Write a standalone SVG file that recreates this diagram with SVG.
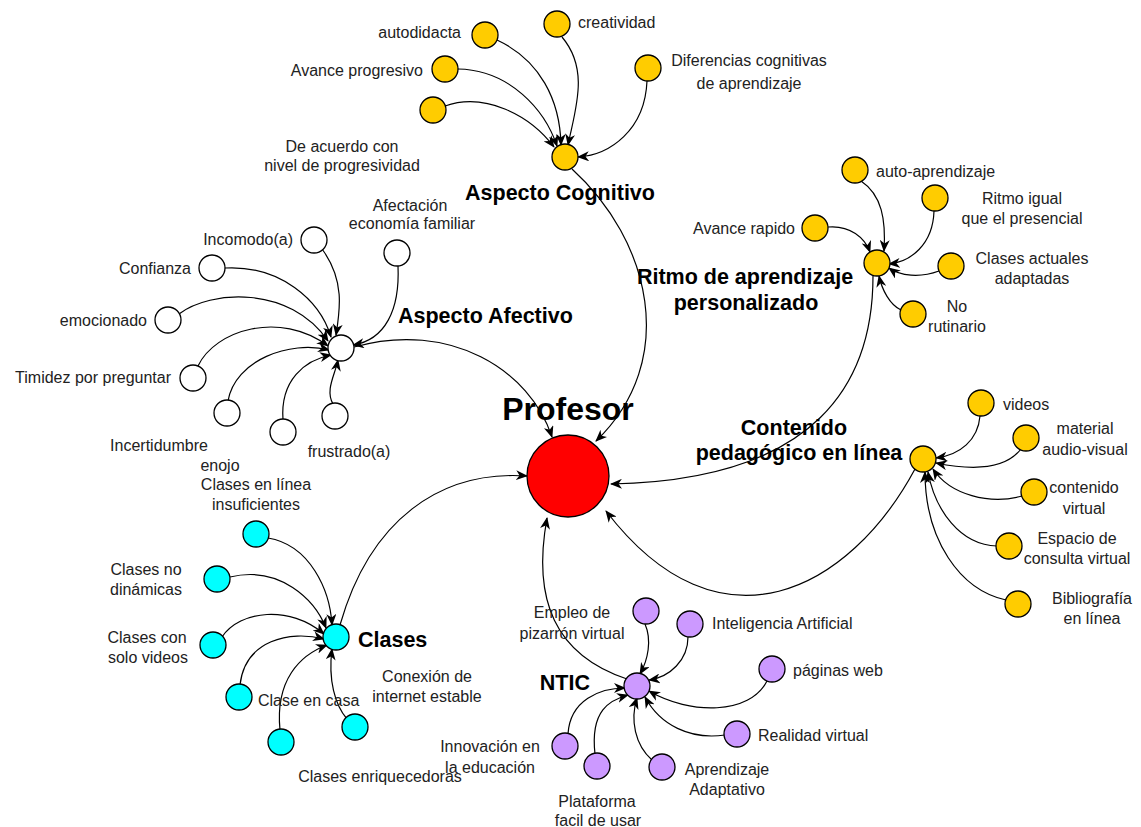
<svg xmlns="http://www.w3.org/2000/svg" width="1141" height="827" viewBox="0 0 1141 827">
<defs>
<marker id="arr" viewBox="0 0 12 10" refX="11" refY="5" markerWidth="12" markerHeight="10" markerUnits="userSpaceOnUse" orient="auto">
<path d="M0,0 L12,5 L0,10 L3.5,5 z" fill="#000"/>
</marker>
<style>
.e{fill:none;stroke:#000;stroke-width:1.2;marker-end:url(#arr)}
circle{stroke:#000;stroke-width:1.3}
.g{fill:#FFCC00}.w{fill:#FFFFFF}.c{fill:#00FFFF}.p{fill:#CC99FF}.r{fill:#FF0000}
text{font-family:"Liberation Sans",Arial,sans-serif;font-size:16px;fill:#222}
.b{font-weight:bold;font-size:21.5px;fill:#000}
.m{text-anchor:middle}.s{text-anchor:end}
</style>
</defs>
<rect width="1141" height="827" fill="#fff"/>
<g id="connectors">
<!-- Cognitivo -->
<path class="e" d="M497,40 C540,60 560,100 561,145"/>
<path class="e" d="M562,37 C590,70 575,110 568,145"/>
<path class="e" d="M458,69 C510,70 545,110 557,146"/>
<path class="e" d="M445,106 C485,92 530,115 554,147"/>
<path class="e" d="M647,81 C645,130 610,155 578,157"/>
<path class="e" d="M572,169 C650,240 680,360 596,441"/>
<!-- Ritmo -->
<path class="e" d="M861,181 C882,195 886,220 884,251"/>
<path class="e" d="M934,211 C933,245 910,262 889,264"/>
<path class="e" d="M828,227 C850,225 865,238 870,252"/>
<path class="e" d="M939,271 C920,278 900,276 889,268"/>
<path class="e" d="M901,310 C890,305 882,290 879,276"/>
<path class="e" d="M873,276 C873,380 820,480 611,484"/>
<!-- Contenido -->
<path class="e" d="M980,416 C978,440 960,455 936,458"/>
<path class="e" d="M1021,449 C1005,470 970,470 936,463"/>
<path class="e" d="M1022,496 C990,505 950,495 933,469"/>
<path class="e" d="M997,546 C960,545 935,510 928,472"/>
<path class="e" d="M1006,600 C960,590 925,540 925,472"/>
<path class="e" d="M915,469 C850,590 720,660 606,511"/>
<!-- Afectivo -->
<path class="e" d="M322,249 C345,280 340,310 336,335"/>
<path class="e" d="M398,266 C400,310 385,340 353,345"/>
<path class="e" d="M225,268 C280,265 320,300 331,337"/>
<path class="e" d="M179,314 C210,290 290,285 328,341"/>
<path class="e" d="M198,366 C215,330 280,310 328,346"/>
<path class="e" d="M228,401 C235,360 290,340 329,350"/>
<path class="e" d="M283,420 C280,380 305,360 331,355"/>
<path class="e" d="M333,404 C325,390 335,375 338,360"/>
<path class="e" d="M354,347 C450,320 530,370 552,437"/>
<!-- Clases -->
<path class="e" d="M268,538 C310,545 330,590 332,625"/>
<path class="e" d="M230,577 C280,565 315,600 326,628"/>
<path class="e" d="M222,637 C240,610 290,605 324,634"/>
<path class="e" d="M240,685 C245,640 290,630 324,639"/>
<path class="e" d="M280,730 C275,680 300,655 327,645"/>
<path class="e" d="M347,719 C335,705 328,680 332,649"/>
<path class="e" d="M340,625 C370,520 440,470 527,476"/>
<!-- NTIC -->
<path class="e" d="M645,624 C652,640 648,660 640,674"/>
<path class="e" d="M688,637 C688,660 670,677 649,680"/>
<path class="e" d="M767,681 C750,715 690,715 649,691"/>
<path class="e" d="M725,735 C690,740 660,725 645,697"/>
<path class="e" d="M652,760 C635,745 630,720 637,698"/>
<path class="e" d="M595,754 C590,710 610,700 628,695"/>
<path class="e" d="M568,734 C570,700 600,688 625,688"/>
<path class="e" d="M627,679 C555,655 532,600 547,518"/>
</g>
<g id="profesor"><circle class="r" cx="568" cy="476" r="41"/><text class="b m" x="568" y="420" style="font-size:32px">Profesor</text></g>
<g id="cognitivo"><circle class="g" cx="565" cy="157" r="13"/><text class="b m" x="560" y="200">Aspecto Cognitivo</text></g>
<g id="autodidacta"><circle class="g" cx="485" cy="35" r="13"/><text class="s" x="461" y="38">autodidacta</text></g>
<g id="creatividad"><circle class="g" cx="557" cy="24" r="13"/><text x="578" y="28">creatividad</text></g>
<g id="avance-progresivo"><circle class="g" cx="445" cy="69" r="13"/><text class="s" x="423" y="76">Avance progresivo</text></g>
<g id="diferencias"><circle class="g" cx="648" cy="68" r="13"/><text class="m" x="749" y="66">Diferencias cognitivas</text><text class="m" x="749" y="89">de aprendizaje</text></g>
<g id="de-acuerdo"><circle class="g" cx="433" cy="110" r="13"/><text class="m" x="342" y="152">De acuerdo con</text><text class="m" x="342" y="171">nivel de progresividad</text></g>
<g id="ritmo"><circle class="g" cx="877" cy="263" r="13"/><text class="b m" x="745" y="284">Ritmo de aprendizaje</text><text class="b m" x="746" y="310">personalizado</text></g>
<g id="auto-aprendizaje"><circle class="g" cx="855" cy="170" r="13"/><text x="876" y="177">auto-aprendizaje</text></g>
<g id="ritmo-igual"><circle class="g" cx="935" cy="198" r="13"/><text class="m" x="1022" y="204">Ritmo igual</text><text class="m" x="1022" y="224">que el presencial</text></g>
<g id="avance-rapido"><circle class="g" cx="815" cy="228" r="13"/><text class="s" x="795" y="234">Avance rapido</text></g>
<g id="clases-actuales"><circle class="g" cx="951" cy="266" r="13"/><text class="m" x="1032" y="264">Clases actuales</text><text class="m" x="1032" y="284">adaptadas</text></g>
<g id="no-rutinario"><circle class="g" cx="913" cy="314" r="13"/><text class="m" x="957" y="312">No</text><text class="m" x="957" y="332">rutinario</text></g>
<g id="contenido"><circle class="g" cx="923" cy="459" r="13"/><text class="b m" x="794" y="435">Contenido</text><text class="b m" x="799" y="460">pedagógico en línea</text></g>
<g id="videos"><circle class="g" cx="981" cy="403" r="13"/><text x="1003" y="410">videos</text></g>
<g id="material"><circle class="g" cx="1026" cy="438" r="13"/><text class="m" x="1085" y="434">material</text><text class="m" x="1085" y="455">audio-visual</text></g>
<g id="contenido-virtual"><circle class="g" cx="1034" cy="492" r="13"/><text class="m" x="1084" y="493">contenido</text><text class="m" x="1084" y="514">virtual</text></g>
<g id="espacio"><circle class="g" cx="1009" cy="546" r="13"/><text class="m" x="1077" y="544">Espacio de</text><text class="m" x="1077" y="564">consulta virtual</text></g>
<g id="bibliografia"><circle class="g" cx="1018" cy="604" r="13"/><text class="m" x="1092" y="604">Bibliografía</text><text class="m" x="1092" y="624">en línea</text></g>
<g id="afectivo"><circle class="w" cx="341" cy="348" r="13"/><text class="b" x="398" y="323">Aspecto Afectivo</text></g>
<g id="incomodo"><circle class="w" cx="314" cy="240" r="13"/><text class="s" x="293" y="245">Incomodo(a)</text></g>
<g id="afectacion"><circle class="w" cx="397" cy="253" r="13"/><text class="m" x="410" y="211">Afectación</text><text class="m" x="412" y="229">economía familiar</text></g>
<g id="confianza"><circle class="w" cx="212" cy="268" r="13"/><text class="s" x="191" y="274">Confianza</text></g>
<g id="emocionado"><circle class="w" cx="168" cy="320" r="13"/><text class="s" x="147" y="326">emocionado</text></g>
<g id="timidez"><circle class="w" cx="193" cy="378" r="13"/><text class="s" x="171" y="383">Timidez por preguntar</text></g>
<g id="incertidumbre"><circle class="w" cx="227" cy="413" r="13"/><text class="m" x="159" y="451">Incertidumbre</text></g>
<g id="enojo"><circle class="w" cx="283" cy="432" r="13"/><text class="m" x="220" y="471">enojo</text></g>
<g id="frustrado"><circle class="w" cx="335" cy="416" r="13"/><text class="m" x="349" y="457">frustrado(a)</text></g>
<g id="clases"><circle class="c" cx="336" cy="637" r="13"/><text class="b" x="358" y="647">Clases</text></g>
<g id="insuficientes"><circle class="c" cx="256" cy="534" r="13"/><text class="m" x="256" y="490">Clases en línea</text><text class="m" x="256" y="510">insuficientes</text></g>
<g id="no-dinamicas"><circle class="c" cx="217" cy="579" r="13"/><text class="m" x="146" y="575">Clases no</text><text class="m" x="146" y="595">dinámicas</text></g>
<g id="solo-videos"><circle class="c" cx="213" cy="645" r="13"/><text class="m" x="147" y="643">Clases con</text><text class="m" x="148" y="663">solo videos</text></g>
<g id="clase-casa"><circle class="c" cx="239" cy="697" r="13"/><text x="258" y="706">Clase en casa</text></g>
<g id="enriquecedoras"><circle class="c" cx="281" cy="742" r="13"/><text class="m" x="380" y="782">Clases enriquecedoras</text></g>
<g id="conexion"><circle class="c" cx="355" cy="727" r="13"/><text class="m" x="427" y="682">Conexión de</text><text class="m" x="427" y="702">internet estable</text></g>
<g id="ntic"><circle class="p" cx="637" cy="686" r="13"/><text class="b s" x="590" y="690">NTIC</text></g>
<g id="empleo"><circle class="p" cx="646" cy="611" r="13"/><text class="m" x="572" y="618">Empleo de</text><text class="m" x="572" y="639">pizarrón virtual</text></g>
<g id="ia"><circle class="p" cx="690" cy="624" r="13"/><text x="712" y="629">Inteligencia Artificial</text></g>
<g id="paginas"><circle class="p" cx="772" cy="669" r="13"/><text x="793" y="676">páginas web</text></g>
<g id="realidad"><circle class="p" cx="737" cy="734" r="13"/><text x="758" y="741">Realidad virtual</text></g>
<g id="aprendizaje-adaptativo"><circle class="p" cx="662" cy="767" r="13"/><text class="m" x="727" y="775">Aprendizaje</text><text class="m" x="727" y="795">Adaptativo</text></g>
<g id="plataforma"><circle class="p" cx="597" cy="766" r="13"/><text class="m" x="597" y="807">Plataforma</text><text class="m" x="598" y="826">facil de usar</text></g>
<g id="innovacion"><circle class="p" cx="565" cy="746" r="13"/><text class="m" x="490" y="752">Innovación en</text><text class="m" x="490" y="773">la educación</text></g>
</svg>
